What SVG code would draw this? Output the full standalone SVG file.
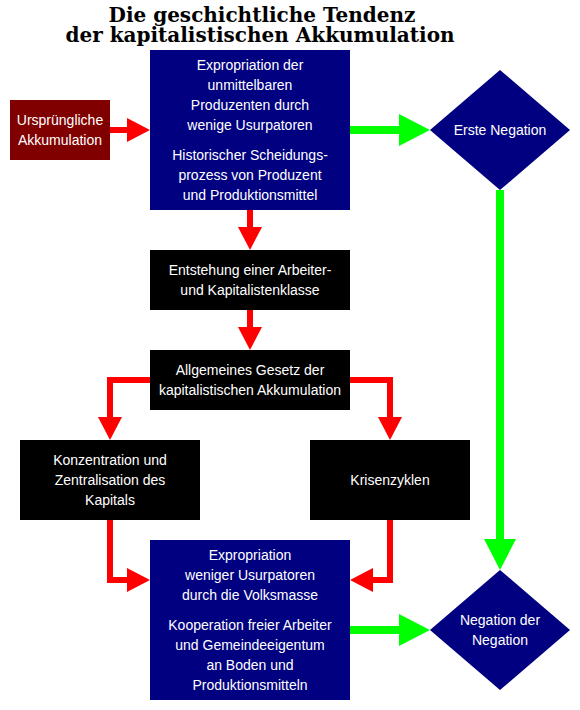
<svg xmlns="http://www.w3.org/2000/svg" width="580" height="710" viewBox="0 0 580 710">
<style>
.title{font-family:"DejaVu Serif",serif;font-weight:bold;font-size:20px;fill:#000;text-anchor:middle}
.t{font-family:"Liberation Sans",Arial,sans-serif;font-size:14px;fill:#fff;text-anchor:middle}
.navy{fill:#000080}
.maroon{fill:#800000}
.blk{fill:#000}
.red{fill:none;stroke:#ff0000;stroke-width:6;stroke-linejoin:miter;marker-end:url(#rh)}
.green{fill:none;stroke:#00ff00;stroke-width:8;stroke-linejoin:miter;marker-end:url(#gh)}
</style>
<defs>
<marker id="rh" markerUnits="userSpaceOnUse" markerWidth="30" markerHeight="30" refX="0" refY="0" orient="auto" overflow="visible">
<path d="M0,-12 L23,0 L0,12 Z" fill="#ff0000"/>
</marker>
<marker id="gh" markerUnits="userSpaceOnUse" markerWidth="40" markerHeight="40" refX="0" refY="0" orient="auto" overflow="visible">
<path d="M0,-16 L31,0 L0,16 Z" fill="#00ff00"/>
</marker>
</defs>
<rect width="580" height="710" fill="#fff"/>
<g id="title">
<text class="title" x="262" y="22">Die geschichtliche Tendenz</text>
<text class="title" x="260" y="42">der kapitalistischen Akkumulation</text>
</g>
<g id="connectors">
<path class="red" d="M110,130 H127"/>
<path class="green" d="M350,130 H399"/>
<path class="red" d="M250,210 V227"/>
<path class="red" d="M250,310 V327"/>
<path class="red" d="M150,380 H110 V417"/>
<path class="red" d="M350,380 H390 V417"/>
<path class="red" d="M110,520 V580 H127"/>
<path class="red" d="M390,520 V580 H373"/>
<path class="green" d="M500,190 V539"/>
<path class="green" d="M350,630 H399"/>
</g>
<g id="urspruengliche">
<rect class="maroon" x="10" y="100" width="100" height="60"/>
<text class="t" x="60" y="125">Ursprüngliche</text>
<text class="t" x="60" y="145">Akkumulation</text>
</g>
<g id="expropriation1">
<rect class="navy" x="150" y="50" width="200" height="160"/>
<text class="t" x="250" y="70">Expropriation der</text>
<text class="t" x="250" y="90">unmittelbaren</text>
<text class="t" x="250" y="110">Produzenten durch</text>
<text class="t" x="250" y="130">wenige Usurpatoren</text>
<text class="t" x="250" y="160">Historischer Scheidungs-</text>
<text class="t" x="250" y="180">prozess von Produzent</text>
<text class="t" x="250" y="200">und Produktionsmittel</text>
</g>
<g id="ersteNegation">
<polygon class="navy" points="500,70 570,130 500,190 430,130"/>
<text class="t" x="500" y="135">Erste Negation</text>
</g>
<g id="entstehung">
<rect class="blk" x="150" y="250" width="200" height="60"/>
<text class="t" x="250" y="275">Entstehung einer Arbeiter-</text>
<text class="t" x="250" y="295">und Kapitalistenklasse</text>
</g>
<g id="gesetz">
<rect class="blk" x="150" y="350" width="200" height="60"/>
<text class="t" x="250" y="375">Allgemeines Gesetz der</text>
<text class="t" x="250" y="395">kapitalistischen Akkumulation</text>
</g>
<g id="konzentration">
<rect class="blk" x="20" y="440" width="180" height="80"/>
<text class="t" x="110" y="465">Konzentration und</text>
<text class="t" x="110" y="485">Zentralisation des</text>
<text class="t" x="110" y="505">Kapitals</text>
</g>
<g id="krisenzyklen">
<rect class="blk" x="310" y="440" width="160" height="80"/>
<text class="t" x="390" y="485">Krisenzyklen</text>
</g>
<g id="expropriation2">
<rect class="navy" x="150" y="540" width="200" height="160"/>
<text class="t" x="250" y="560">Expropriation</text>
<text class="t" x="250" y="580">weniger Usurpatoren</text>
<text class="t" x="250" y="600">durch die Volksmasse</text>
<text class="t" x="250" y="630">Kooperation freier Arbeiter</text>
<text class="t" x="250" y="650">und Gemeindeeigentum</text>
<text class="t" x="250" y="670">an Boden und</text>
<text class="t" x="250" y="690">Produktionsmitteln</text>
</g>
<g id="negationDerNegation">
<polygon class="navy" points="500,570 570,630 500,690 430,630"/>
<text class="t" x="500" y="625">Negation der</text>
<text class="t" x="500" y="645">Negation</text>
</g>
</svg>
